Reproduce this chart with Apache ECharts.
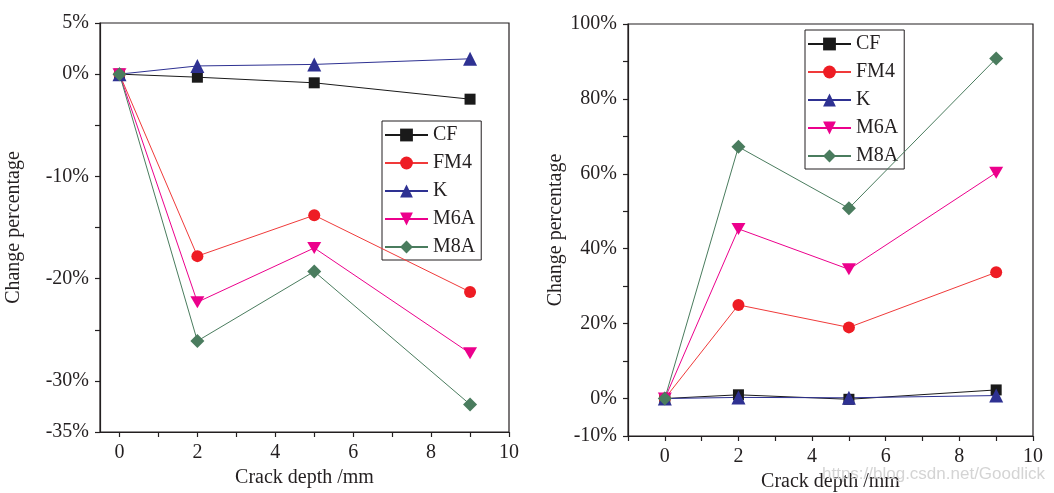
<!DOCTYPE html>
<html><head><meta charset="utf-8">
<script src="https://cdn.jsdelivr.net/npm/echarts@6/dist/echarts.min.js"></script>
<style>html,body{margin:0;padding:0;background:#fff}#c{width:1054px;height:493px}</style>
</head><body><div id="c"></div>
<script>
const depths = [0, 2, 5, 9];
const seriesNames = ['CF', 'FM4', 'K', 'M6A', 'M8A'];
// Left panel (change percentage, %)
const leftCF  = [0, -0.3, -0.85, -2.45];
const leftFM4 = [0, -17.8, -13.8, -21.3];
const leftK   = [0, 0.8, 0.95, 1.5];
const leftM6A = [0, -22.3, -17.0, -27.3];
const leftM8A = [0, -26.1, -19.3, -32.3];
// Right panel (change percentage, %)
const rightCF  = [0, 1.0, -0.2, 2.3];
const rightFM4 = [0, 25.0, 19.0, 33.7];
const rightK   = [0, 0.3, 0.2, 0.8];
const rightM6A = [0, 45.3, 34.5, 60.3];
const rightM8A = [0, 67.2, 50.8, 90.8];
// Tick labels
const xLabels = [0, 2, 4, 6, 8, 10];
const leftYLabels = [5, 0, -10, -20, -30, -35];
const rightYLabels = [100, 80, 60, 40, 20, 0, -10];
const leftXTicks = [0,1,2,3,4,5,6,7,8,9,10];
const rightXTicks = [-1,0,1,2,3,4,5,6,7,8,9,10];

const styles = {
  CF:  {color:'#1a1a1a', line:'#1a1a1a', symbol:'rect', size:11},
  FM4: {color:'#ee1c24', line:'#f03a3a', symbol:'circle', size:12},
  K:   {color:'#2e3192', line:'#2e3192', symbol:'triangle', size:14},
  M6A: {color:'#ec008c', line:'#ec008c', symbol:'path://M0,0 L10,0 L5,9 Z', size:[14,12]},
  M8A: {color:'#4a7c5e', line:'#4a7c5e', symbol:'diamond', size:14}
};
const leftData = {CF:leftCF, FM4:leftFM4, K:leftK, M6A:leftM6A, M8A:leftM8A};
const rightData = {CF:rightCF, FM4:rightFM4, K:rightK, M6A:rightM6A, M8A:rightM8A};

const FONT = 'Liberation Serif';
const TXT = '#231f20';
const FS = 20;
function mkSeries(dataMap, idx){
  return seriesNames.map(n => ({
    name:n, type:'line', xAxisIndex:idx, yAxisIndex:idx,
    data: depths.map((d,i)=>[d, dataMap[n][i]]),
    symbol: styles[n].symbol, symbolSize: styles[n].size,
    showAllSymbol:true,
    lineStyle:{color:styles[n].line, width:1},
    itemStyle:{color:styles[n].color},
    emphasis:{disabled:true}, animation:false, z: 5
  }));
}
const axisCommon = {
  axisLine:{show:true, onZero:false, lineStyle:{color:'#231f20', width:1.2}},
  axisTick:{show:true, inside:false, length:5, lineStyle:{color:'#231f20', width:1.2}},
  splitLine:{show:false},
  axisLabel:{fontFamily:FONT, fontSize:FS, color:TXT},
  nameTextStyle:{fontFamily:FONT, fontSize:FS, color:TXT}
};
function xAx(idx, min, ticks, gap){
  return Object.assign({}, axisCommon, {
    type:'value', gridIndex:idx, min:min, max:10,
    name:'Crack depth /mm', nameLocation:'middle', nameGap:gap,
    axisTick:Object.assign({}, axisCommon.axisTick, {customValues:ticks}),
    axisLabel:Object.assign({}, axisCommon.axisLabel, {customValues:xLabels, margin:11}),
  });
}
const legendCommon = {
  orient:'vertical', borderColor:'#231f20', borderWidth:1, itemGap:8, itemWidth:43, itemHeight:16,
  textStyle:{fontFamily:FONT, fontSize:FS, color:TXT}, data:seriesNames, selectedMode:false
};
const option = {
  backgroundColor:'#fff',
  animation:false,
  grid:[
    {left:100, right:545, top:23, bottom:61, outerBoundsMode:'none', containLabel:false, show:true, borderColor:'#231f20', borderWidth:1.2, backgroundColor:'transparent'},
    {left:628, right:21, top:24, bottom:57, outerBoundsMode:'none', containLabel:false, show:true, borderColor:'#231f20', borderWidth:1.2, backgroundColor:'transparent'}
  ],
  xAxis:[xAx(0,-0.5,leftXTicks,33), xAx(1,-1,rightXTicks,29)],
  yAxis:[
    Object.assign({}, axisCommon, {type:'value', gridIndex:0, min:-35, max:5, interval:5,
      name:'Change percentage', nameLocation:'middle', nameGap:76, nameRotate:90,
      axisLabel:Object.assign({}, axisCommon.axisLabel, {customValues:leftYLabels, formatter:v=>v+'%', margin:11})}),
    Object.assign({}, axisCommon, {type:'value', gridIndex:1, min:-10, max:100, interval:10,
      name:'Change percentage', nameLocation:'middle', nameGap:62, nameRotate:90,
      axisLabel:Object.assign({}, axisCommon.axisLabel, {customValues:rightYLabels, formatter:v=>v+'%', margin:11})})
  ],
  legend:[
    Object.assign({}, legendCommon, {left:382, top:121, padding:[4,6,3,2]}),
    Object.assign({}, legendCommon, {left:805, top:30, padding:[4,6,3,2]})
  ],
  graphic:[{type:'text', right:9, top:466, style:{text:'https://blog.csdn.net/Goodlick', fontFamily:'Liberation Sans', fontSize:17, fill:'#d4d4d4'}, z:100}],
  series: mkSeries(leftData,0).concat(mkSeries(rightData,1))
};
const chart = echarts.init(document.getElementById('c'), null, {renderer:'canvas'});
chart.setOption(option);
</script></body></html>
